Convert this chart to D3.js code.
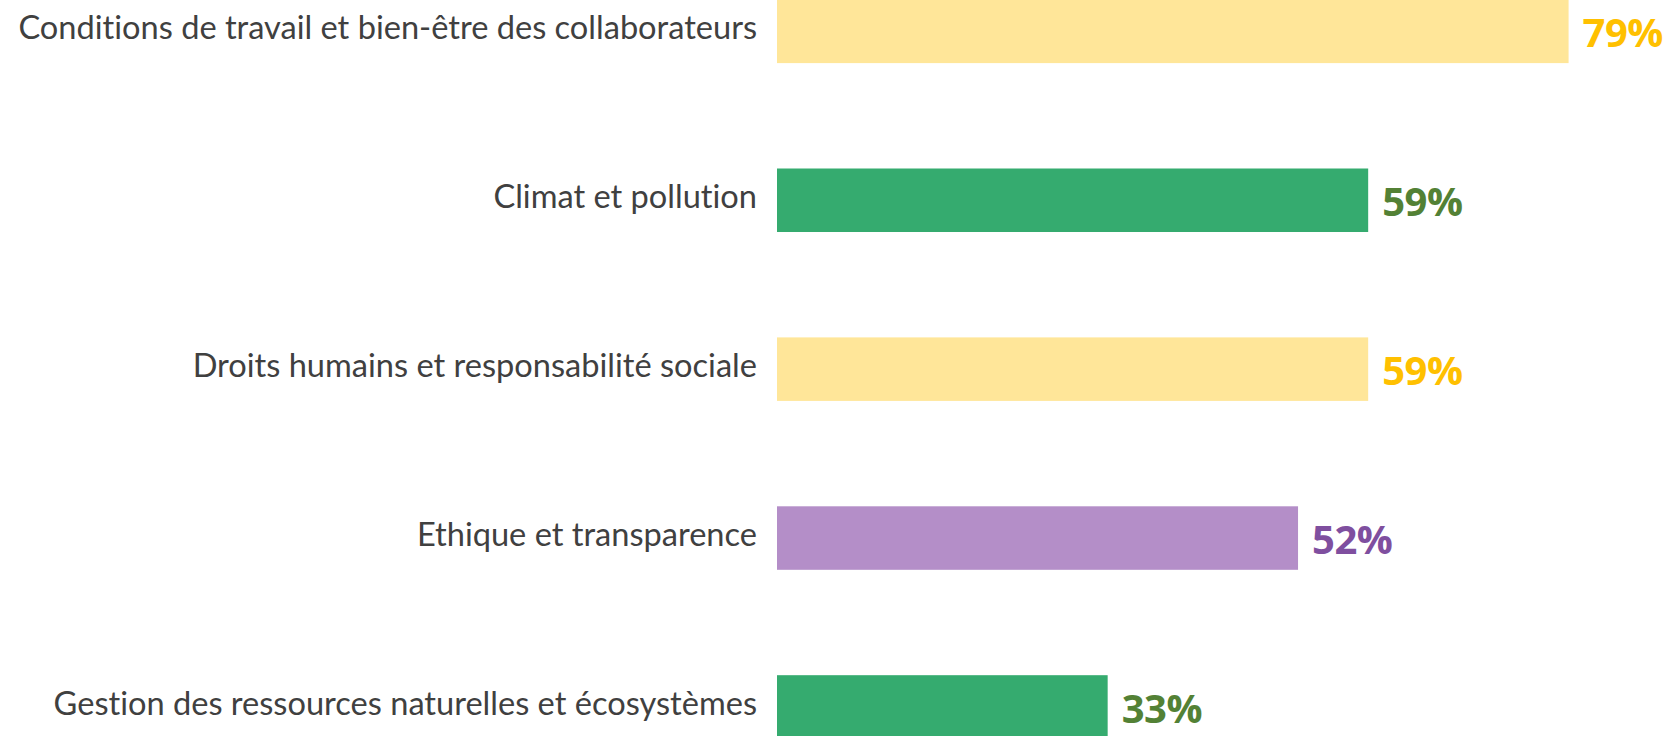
<!DOCTYPE html>
<html>
<head>
<meta charset="utf-8">
<script src="https://cdn.jsdelivr.net/npm/d3@7"></script>
<style>
  html, body { margin: 0; padding: 0; background: #fff; }
  svg { display: block; }
  text { font-variant-ligatures: none; }
</style>
</head>
<body>
<div id="chart"></div>
<script>
// data
const categories = [
    "Conditions de travail et bien-être des collaborateurs",
    "Climat et pollution",
    "Droits humains et responsabilité sociale",
    "Ethique et transparence",
    "Gestion des ressources naturelles et écosystèmes"
];
const values = [79, 59, 59, 52, 33];
const barColors = ["#ffe699", "#35ab6f", "#ffe699", "#b48ec8", "#35ab6f"];
const labelColors = ["#ffc000", "#538135", "#ffc000", "#7f4f9f", "#538135"];

const width = 1675, height = 736;

const svg = d3.select("#chart").append("svg")
    .attr("width", width)
    .attr("height", height);

// scales
let x = d3.scaleLinear().domain([0, 100]).range([777, 1779]);
let y = d3.scaleBand().domain(categories).range([-0.4, 738.7]).paddingInner(0.624).paddingOuter(0);

let rows = svg.selectAll(".row")
    .data(categories)
    .enter()
    .append("g")
    .attr("class", "row");

// bars
rows.append("rect")
    .attr("x", x(0))
    .attr("y", d => y(d))
    .attr("width", (d, i) => x(values[i]) - x(0))
    .attr("height", y.bandwidth())
    .attr("fill", (d, i) => barColors[i]);

// category labels
rows.append("text")
    .attr("x", x(0) - 20)
    .attr("y", d => y(d) + y.bandwidth() / 2 + 8)
    .attr("text-anchor", "end")
    .style("font-family", "Lato, 'Open Sans', sans-serif")
    .style("font-size", "32.6px")
    .attr("fill", "#404040")
    .text(d => d);

// value labels
rows.append("text")
    .attr("x", (d, i) => x(values[i]) + 14)
    .attr("y", d => y(d) + y.bandwidth() / 2 + 16)
    .style("font-family", "'Open Sans', sans-serif")
    .style("font-weight", "bold")
    .style("font-size", "40px")
    .style("letter-spacing", "-0.5px")
    .attr("fill", (d, i) => labelColors[i])
    .text((d, i) => values[i] + "%");
</script>
</body>
</html>
